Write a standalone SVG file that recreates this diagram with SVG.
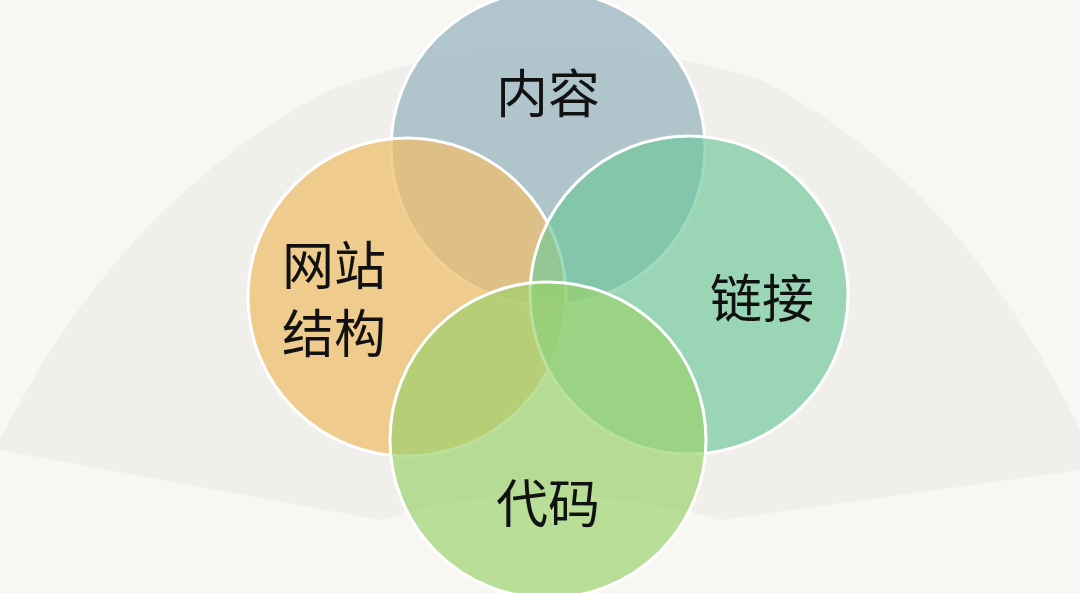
<svg xmlns="http://www.w3.org/2000/svg" width="1080" height="593" viewBox="0 0 1080 593">
<style>
.c{stroke:#fff;stroke-width:3}
.t{font-family:"Noto Sans CJK SC",sans-serif;font-size:52px;fill:#111;text-anchor:middle;dominant-baseline:central}
</style>
<rect width="1080" height="593" fill="#f8f7f3"/>
<path d="M0 440 Q120 200 330 90 Q540 10 760 80 Q960 180 1080 430 L1080 470 L720 520 Q540 470 380 520 L0 450 Z" fill="#ecebe8" opacity="0.7"/>
<g id="neirong"><circle class="c" cx="548" cy="148" r="157" fill="#a3bcc6" fill-opacity="0.85"/></g>
<g id="wangzhan"><circle class="c" cx="407" cy="297" r="159" fill="#f0bd6a" fill-opacity="0.72"/></g>
<g id="lianjie"><circle class="c" cx="689" cy="295" r="159" fill="#6cc79a" fill-opacity="0.65"/></g>
<g id="daima"><circle class="c" cx="548" cy="440" r="158" fill="#9bd26c" fill-opacity="0.68"/></g>
<g id="labels">
<text class="t" x="548" y="90">内容</text>
<text class="t" x="334" y="262">网站</text>
<text class="t" x="334" y="330">结构</text>
<text class="t" x="762" y="295">链接</text>
<text class="t" x="548" y="500">代码</text>
</g>
<g id="connectors"/>
</svg>
